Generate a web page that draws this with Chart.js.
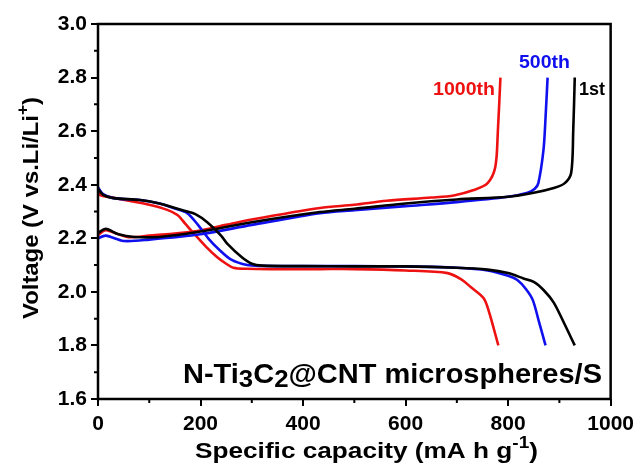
<!DOCTYPE html>
<html lang="en">
<head>
<meta charset="UTF-8">
<title>N-Ti3C2@CNT microspheres/S charge-discharge profiles</title>
<script src="https://cdn.jsdelivr.net/npm/chart.js"></script>
<style>
  body { margin: 0; background: #fff; }
  #wrap { width: 640px; height: 471px; }
</style>
</head>
<body>
<div id="wrap"><canvas id="myChart"></canvas></div>
<script>
// capacity (mA h g-1) and voltage (V)
const cap1Dis = [0, 10, 30, 82, 120, 147, 170, 190, 213, 240, 252, 280, 300, 320, 400, 500, 600, 700, 760, 800, 830, 850, 870, 889, 910, 930];
const volt1Dis = [2.385, 2.362, 2.35, 2.343, 2.33, 2.315, 2.302, 2.29, 2.26, 2.21, 2.18, 2.13, 2.105, 2.098, 2.096, 2.095, 2.095, 2.09, 2.083, 2.07, 2.05, 2.037, 2.005, 1.96, 1.88, 1.80];
const cap1Cha = [0, 15, 40, 70, 120, 200, 300, 433, 500, 600, 700, 800, 850, 889, 910, 923, 927, 930];
const volt1Cha = [2.22, 2.235, 2.215, 2.205, 2.205, 2.225, 2.26, 2.298, 2.31, 2.33, 2.345, 2.355, 2.37, 2.388, 2.405, 2.444, 2.6, 2.8];

const cap500Dis = [0, 10, 30, 82, 120, 147, 174, 195, 215, 235, 260, 291, 320, 400, 500, 600, 700, 760, 800, 818, 835, 848, 860, 873];
const volt500Dis = [2.39, 2.365, 2.35, 2.343, 2.33, 2.313, 2.294, 2.25, 2.2, 2.16, 2.12, 2.10, 2.097, 2.096, 2.096, 2.095, 2.09, 2.08, 2.06, 2.044, 2.01, 1.97, 1.89, 1.80];
const cap500Cha = [0, 15, 50, 100, 200, 300, 433, 500, 600, 700, 800, 838, 852, 859, 869, 873, 877];
const volt500Cha = [2.2, 2.21, 2.19, 2.195, 2.215, 2.25, 2.294, 2.305, 2.32, 2.335, 2.355, 2.37, 2.385, 2.406, 2.53, 2.65, 2.8];

const cap1000Dis = [0, 5, 23, 60, 100, 135, 155, 170, 186, 210, 232, 250, 264, 290, 350, 433, 500, 600, 682, 710, 727, 752, 762, 781];
const volt1000Dis = [2.373, 2.36, 2.354, 2.34, 2.325, 2.306, 2.287, 2.255, 2.22, 2.17, 2.13, 2.105, 2.09, 2.086, 2.085, 2.085, 2.085, 2.08, 2.07, 2.045, 2.018, 1.977, 1.93, 1.80];
const cap1000Cha = [0, 15, 57, 100, 186, 250, 300, 433, 500, 563, 650, 694, 733, 760, 775, 780, 785];
const volt1000Cha = [2.212, 2.23, 2.205, 2.21, 2.225, 2.25, 2.27, 2.313, 2.325, 2.34, 2.352, 2.36, 2.38, 2.406, 2.466, 2.6, 2.8];

const xTicks = [0, 200, 400, 600, 800, 1000];
const yTicks = [1.6, 1.8, 2.0, 2.2, 2.4, 2.6, 2.8, 3.0];

function pts(xs, ys) {
    return xs.map((x, i) => ({ x: x, y: ys[i] }));
}

function curve(xs, ys, color) {
    return {
        data: pts(xs, ys),
        borderColor: color,
        borderWidth: 2.6,
        pointRadius: 0,
        tension: 0.3,
        fill: false
    };
}

// draw a string made of pieces (normal / sub / superscript), stretched to a given width
function drawParts(ctx, parts, x, y, color, targetW) {
    ctx.save();
    ctx.fillStyle = color;
    ctx.textBaseline = 'alphabetic';
    ctx.textAlign = 'left';
    let w = 0;
    parts.forEach(p => {
        ctx.font = 'bold ' + p.size + 'px "Liberation Sans", Arial, sans-serif';
        w += ctx.measureText(p.t).width;
    });
    const sx = targetW ? targetW / w : 1;
    ctx.translate(x, y);
    ctx.scale(sx, 1);
    let cx = 0;
    parts.forEach(p => {
        ctx.font = 'bold ' + p.size + 'px "Liberation Sans", Arial, sans-serif';
        ctx.fillText(p.t, cx, p.dy || 0);
        cx += ctx.measureText(p.t).width;
    });
    ctx.restore();
}

const decor = {
    id: 'decor',
    afterDraw(chart) {
        const ctx = chart.ctx;
        const a = chart.chartArea;
        const xs = chart.scales.x, ys = chart.scales.y;
        ctx.save();
        ctx.strokeStyle = '#000';
        ctx.lineWidth = 2.5;
        ctx.strokeRect(a.left, a.top, a.right - a.left, a.bottom - a.top);

        // minor ticks
        ctx.lineWidth = 2;
        ctx.beginPath();
        for (let v = 100; v < 1000; v += 200) {
            const px = xs.getPixelForValue(v);
            ctx.moveTo(px, a.bottom);
            ctx.lineTo(px, a.bottom + 4);
        }
        for (let v = 1.7; v < 3.0; v += 0.2) {
            const py = ys.getPixelForValue(v);
            ctx.moveTo(a.left - 4, py);
            ctx.lineTo(a.left, py);
        }
        ctx.stroke();

        // cycle labels
        drawParts(ctx, [{ t: '1000th', size: 18 }], 433, 95, '#ee1111', 62);
        drawParts(ctx, [{ t: '500th', size: 18 }], 519, 68, '#1010ee', 51);
        drawParts(ctx, [{ t: '1st', size: 18 }], 579, 95, '#000', 26);

        // sample name
        drawParts(ctx, [
            { t: 'N-Ti', size: 27 },
            { t: '3', size: 24, dy: 4 },
            { t: 'C', size: 27 },
            { t: '2', size: 24, dy: 4 },
            { t: '@CNT microspheres/S', size: 27 }
        ], 183, 383, '#000', 419);

        // x axis title
        drawParts(ctx, [
            { t: 'Specific capacity (mA h g', size: 22 },
            { t: '-1', size: 16, dy: -10 },
            { t: ')', size: 22 }
        ], 195, 458, '#000', 343);

        // y axis title
        ctx.translate(38, 319);
        ctx.rotate(-Math.PI / 2);
        drawParts(ctx, [
            { t: 'Voltage (V vs.Li/Li', size: 22 },
            { t: '+', size: 16, dy: -10 },
            { t: ')', size: 22 }
        ], 0, 0, '#000', 222);
        ctx.restore();
    }
};

const tickFont = { family: '"Liberation Sans", Arial, sans-serif', size: 21, weight: 'bold' };

const ctx = document.getElementById('myChart').getContext('2d');
const myChart = new Chart(ctx, {
    type: 'line',
    data: {
        datasets: [
            curve(cap1Dis, volt1Dis, '#000000'),
            curve(cap1Cha, volt1Cha, '#000000'),
            curve(cap500Dis, volt500Dis, '#1010ee'),
            curve(cap500Cha, volt500Cha, '#1010ee'),
            curve(cap1000Dis, volt1000Dis, '#ee1111'),
            curve(cap1000Cha, volt1000Cha, '#ee1111')
        ]
    },
    options: {
        responsive: true,
        maintainAspectRatio: false,
        animation: false,
        layout: { padding: { top: 24, right: 29, left: 0, bottom: 0 } },
        plugins: { legend: { display: false }, tooltip: { enabled: false } },
        scales: {
            x: {
                type: 'linear',
                min: 0, max: 1000,
                afterBuildTicks: s => { s.ticks = xTicks.map(v => ({ value: v })); },
                afterFit: s => { s.height = 72; },
                ticks: { color: '#000', font: tickFont, padding: 6, maxRotation: 0, callback: v => String(v) },
                grid: { drawOnChartArea: false, drawTicks: true, tickLength: 7, color: '#000', lineWidth: 2 },
                border: { display: false }
            },
            y: {
                type: 'linear',
                min: 1.6, max: 3.0,
                afterBuildTicks: s => { s.ticks = yTicks.map(v => ({ value: v })); },
                afterFit: s => { s.width = 98; },
                ticks: { color: '#000', font: tickFont, padding: 4, callback: v => v.toFixed(1) },
                grid: { drawOnChartArea: false, drawTicks: true, tickLength: 7, color: '#000', lineWidth: 2 },
                border: { display: false }
            }
        }
    },
    plugins: [decor]
});
</script>
</body>
</html>
